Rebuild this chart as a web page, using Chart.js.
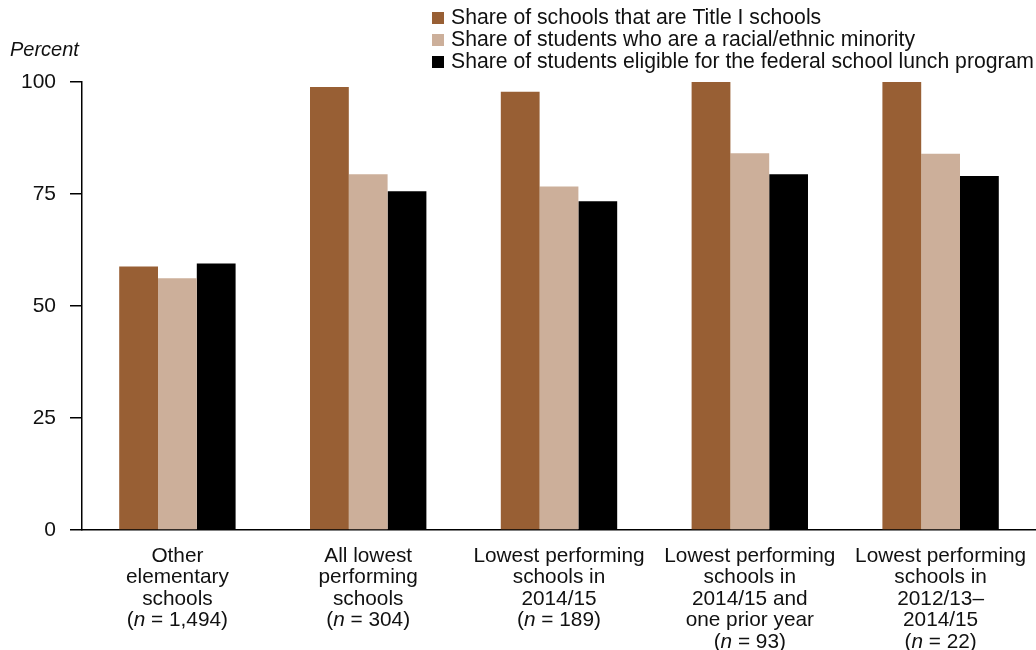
<!DOCTYPE html>
<html>
<head>
<meta charset="utf-8">
<script src="https://cdn.jsdelivr.net/npm/chart.js@4"></script>
<style>
  html,body{margin:0;padding:0;background:#fff;}
  #wrap{width:1036px;height:650px;}
</style>
</head>
<body>
<div id="wrap"><canvas id="c" width="1036" height="650"></canvas></div>
<script>
// categories (line by line) and their n counts
const categories=[
  ['Other','elementary','schools'],
  ['All lowest','performing','schools'],
  ['Lowest performing','schools in','2014/15'],
  ['Lowest performing','schools in','2014/15 and','one prior year'],
  ['Lowest performing','schools in','2012/13\u2013','2014/15']
];
const nCounts=['1,494','304','189','93','22'];

const seriesNames=[
  'Share of schools that are Title I schools',
  'Share of students who are a racial/ethnic minority',
  'Share of students eligible for the federal school lunch program'
];
const titleI=[58.8,98.9,97.8,100,100];
const minority=[56.2,79.4,76.7,84.1,84.0];
const lunch=[59.5,75.6,73.4,79.4,79.0];
const yTicks=[0,25,50,75,100];

const colors=['#985f34','#ccaf9a','#000000'];
const FONT="'Liberation Sans', Arial, sans-serif";
const FS=20.8;

// legend + Percent label + multi-line x labels with italic n
const decor={
  id:'decor',
  afterDraw(chart){
    const ctx=chart.ctx, area=chart.chartArea;
    ctx.save();
    // legend
    ctx.textBaseline='middle'; ctx.textAlign='left';
    ctx.font='21.2px '+FONT;
    chart.data.datasets.forEach((ds,i)=>{
      const y=18+i*22;
      ctx.fillStyle=ds.backgroundColor;
      ctx.fillRect(432,y-6,12,12);
      ctx.fillStyle='#111';
      ctx.fillText(ds.label,451,y);
    });
    // y unit label
    ctx.font='italic 20px '+FONT;
    ctx.fillText('Percent',10,50);
    // x labels
    const xs=chart.scales.x;
    categories.forEach((lines,i)=>{
      const cx=xs.getPixelForValue(i);
      let y=area.bottom+26;
      ctx.font=FS+'px '+FONT;
      lines.forEach(t=>{
        const w=ctx.measureText(t).width;
        ctx.fillText(t,cx-w/2,y);
        y+=21.5;
      });
      const a='(', b='n', c=' = '+nCounts[i]+')';
      ctx.font=FS+'px '+FONT; const wa=ctx.measureText(a).width, wc=ctx.measureText(c).width;
      ctx.font='italic '+FS+'px '+FONT; const wb=ctx.measureText(b).width;
      let x=cx-(wa+wb+wc)/2;
      ctx.font=FS+'px '+FONT; ctx.fillText(a,x,y); x+=wa;
      ctx.font='italic '+FS+'px '+FONT; ctx.fillText(b,x,y); x+=wb;
      ctx.font=FS+'px '+FONT; ctx.fillText(c,x,y);
    });
    ctx.restore();
  }
};

new Chart(document.getElementById('c'),{
  type:'bar',
  data:{
    labels:categories.map(l=>l.join(' ')),
    datasets:[
      {label:seriesNames[0],data:titleI,backgroundColor:colors[0]},
      {label:seriesNames[1],data:minority,backgroundColor:colors[1]},
      {label:seriesNames[2],data:lunch,backgroundColor:colors[2]}
    ]
  },
  options:{
    responsive:false,
    animation:false,
    layout:{padding:{top:82,bottom:112,left:0,right:0}},
    datasets:{bar:{categoryPercentage:0.61,barPercentage:1}},
    plugins:{legend:{display:false},tooltip:{enabled:false}},
    scales:{
      x:{
        ticks:{display:false},
        grid:{display:false},
        border:{color:'#000',width:1.5}
      },
      y:{
        min:0,max:100,
        afterBuildTicks(s){ s.ticks=yTicks.map(v=>({value:v})); },
        afterFit(s){ s.width=82; },
        ticks:{font:{family:FONT,size:21},color:'#111',padding:14},
        grid:{drawOnChartArea:false,drawTicks:true,tickLength:12,color:'#000',lineWidth:1.5},
        border:{color:'#000',width:1.5}
      }
    }
  },
  plugins:[decor]
});
</script>
</body>
</html>
